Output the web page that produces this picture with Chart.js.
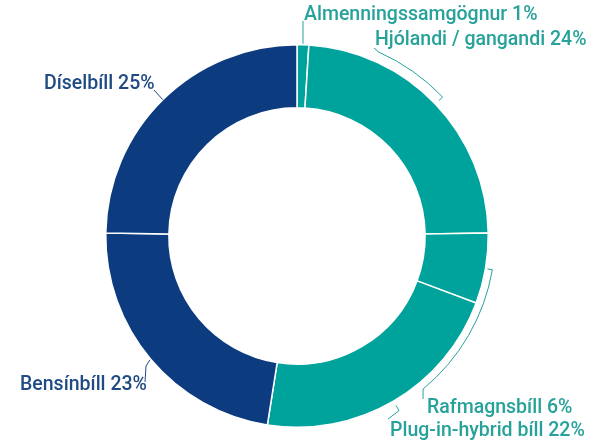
<!DOCTYPE html>
<html>
<head>
<meta charset="utf-8">
<script src="https://cdn.jsdelivr.net/npm/chart.js@4"></script>
<style>
    html, body { margin: 0; padding: 0; background: #ffffff; }
    #wrap { width: 592px; height: 442px; }
</style>
</head>
<body>
<div id="wrap"><canvas id="travelChart" width="592" height="442"></canvas></div>
<script>
// data
const categories = ['Almenningssamgögnur', 'Hjólandi / gangandi', 'Rafmagnsbíll', 'Plug-in-hybrid bíll', 'Bensínbíll', 'Díselbíll'];
const shares = [1, 24, 6, 22, 23, 25];

const teal = '#00a39b';
const navy = '#0c3c7f';
const sliceColors = [teal, teal, teal, teal, navy, navy];
const textColors = ['#26a29a', '#26a29a', '#26a29a', '#26a29a', '#1f4a83', '#1f4a83'];

// where each label sits and how its leader runs (angles in degrees, clockwise from top)
const labelSpots = [
    { x: 304, y: 15, leader: 'line', gap: 1, points: [[303, 21]] },
    { x: 375, y: 40, leader: 'bracket', tickIn: 5, tickOut: 10, bendTo: 24, points: [[374, 48]] },
    { x: 427, y: 408, leader: 'bracket', tickIn: 2, tickOut: 7, bendTo: 140.5, points: [[423, 399]] },
    { x: 390, y: 431, leader: 'bracket', tickIn: 5, tickOut: 11, bendTo: null, points: [[388, 419]] },
    { x: 20, y: 385, leader: 'line', gap: 1, points: [[146, 366], [145, 382]] },
    { x: 44, y: 84, leader: 'line', gap: 0, points: [[154, 90]] }
];

const labelPlugin = {
    id: 'sliceLabels',
    afterDraw(chart) {
        const ctx = chart.ctx;
        const meta = chart.getDatasetMeta(0);
        ctx.save();
        meta.data.forEach((arc, i) => {
            const p = arc.getProps(['x', 'y', 'startAngle', 'endAngle', 'outerRadius'], true);
            const mid = (p.startAngle + p.endAngle) / 2;
            const spot = labelSpots[i];
            const at = (r, a) => [p.x + r * Math.cos(a), p.y + r * Math.sin(a)];

            ctx.strokeStyle = textColors[i];
            ctx.lineWidth = 1;
            ctx.beginPath();
            if (spot.leader === 'bracket') {
                const a = at(p.outerRadius + spot.tickIn, mid);
                const b = at(p.outerRadius + spot.tickOut, mid);
                ctx.moveTo(a[0], a[1]);
                ctx.lineTo(b[0], b[1]);
                if (spot.bendTo !== null) {
                    const bend = spot.bendTo * Math.PI / 180 - Math.PI / 2;
                    ctx.arc(p.x, p.y, p.outerRadius + spot.tickOut, mid, bend, bend < mid);
                }
            } else {
                const a = at(p.outerRadius + spot.gap, mid);
                ctx.moveTo(a[0], a[1]);
            }
            spot.points.forEach(pt => ctx.lineTo(pt[0], pt[1]));
            ctx.stroke();

            ctx.fillStyle = textColors[i];
            ctx.font = '500 19.5px Roboto';
            ctx.textAlign = 'left';
            ctx.textBaseline = 'middle';
            ctx.fillText(categories[i] + ' ' + shares[i] + '%', spot.x, spot.y);
        });
        ctx.restore();
    }
};

const travelChartConfig = {
    type: 'doughnut',
    data: {
        labels: categories,
        datasets: [{
            data: shares,
            backgroundColor: sliceColors,
            borderColor: '#ffffff',
            borderWidth: 1.5
        }]
    },
    options: {
        responsive: false,
        animation: false,
        cutout: '67%',
        layout: {
            padding: { top: 44, bottom: 14, left: 105, right: 103 }
        },
        plugins: {
            legend: { display: false },
            title: { display: false },
            tooltip: { enabled: false }
        }
    },
    plugins: [labelPlugin]
};

new Chart(document.getElementById('travelChart').getContext('2d'), travelChartConfig);
</script>
</body>
</html>
